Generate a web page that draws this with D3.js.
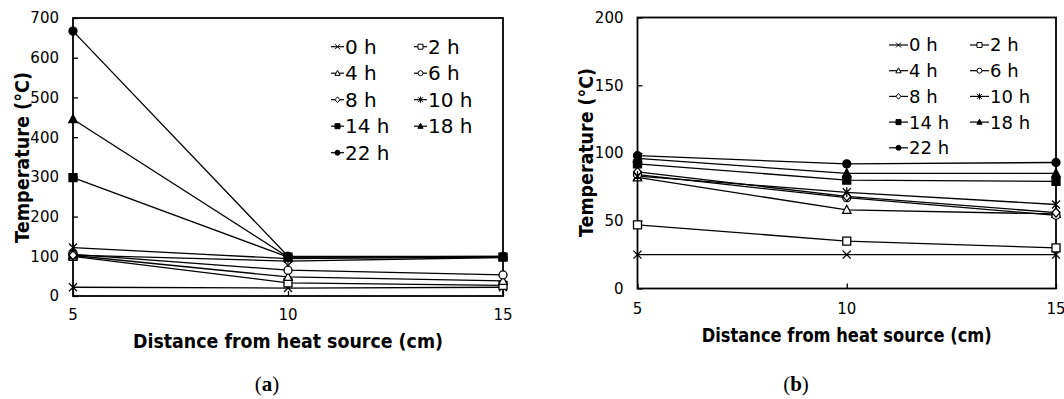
<!DOCTYPE html>
<html><head><meta charset="utf-8">
<script src="https://cdn.jsdelivr.net/npm/d3@7"></script>
<style>
html,body{margin:0;padding:0;background:#fff;}
svg{display:block;}
text{font-family:"DejaVu Sans",Verdana,sans-serif;fill:#000;}
</style></head>
<body>
<svg id="chart" width="1064" height="399"></svg>
<script>
// ---- data ----
const distances = [5, 10, 15];
const seriesNames = ["0 h", "2 h", "4 h", "6 h", "8 h", "10 h", "14 h", "18 h", "22 h"];
const markerTypes = ["x", "square", "triangle", "circle", "diamond", "asterisk", "squareFill", "triangleFill", "circleFill"];

// panel (a)
const a0h  = [22, 20, 22];
const a2h  = [100, 33, 27];
const a4h  = [102, 48, 38];
const a6h  = [105, 65, 53];
const a8h  = [103, 88, 97];
const a10h = [122, 94, 98];
const a14h = [298, 98, 98];
const a18h = [445, 98, 100];
const a22h = [667, 100, 100];
const aTicksY = [0, 100, 200, 300, 400, 500, 600, 700];

// panel (b)
const b0h  = [25, 25, 25];
const b2h  = [47, 35, 30];
const b4h  = [82, 58, 55];
const b6h  = [84, 67, 54];
const b8h  = [86, 68, 56];
const b10h = [83, 71, 62];
const b14h = [92, 80, 79];
const b18h = [96, 85, 85];
const b22h = [98, 92, 93];
const bTicksY = [0, 50, 100, 150, 200];

const xTicks = [5, 10, 15];
const yTitle = "Temperature (°C)";
const xTitle = "Distance from heat source (cm)";

// ---- drawing ----
const svg = d3.select("#chart");

function markerPath(type, s) {
  const h = s / 2;
  switch (type) {
    case "x": case "asterisk": {
      let p = `M${-h},${-h}L${h},${h}M${-h},${h}L${h},${-h}`;
      if (type === "asterisk") p += `M0,${-h * 1.25}L0,${h * 1.25}`;
      return p;
    }
    case "square": case "squareFill":
      return `M${-h},${-h}H${h}V${h}H${-h}Z`;
    case "triangle": case "triangleFill":
      return `M0,${-h * 1.15}L${h * 1.05},${h * 0.85}L${-h * 1.05},${h * 0.85}Z`;
    case "diamond":
      return `M0,${-h * 1.15}L${h * 1.0},0L0,${h * 1.15}L${-h * 1.0},0Z`;
    case "circle": case "circleFill":
      return `M${h},0A${h},${h} 0 1,1 ${-h},0A${h},${h} 0 1,1 ${h},0Z`;
  }
}
function drawMarker(g, type, x, y, s, sw) {
  const filled = type.endsWith("Fill");
  const open = !filled && type !== "x" && type !== "asterisk";
  g.append("path")
    .attr("d", markerPath(type, s))
    .attr("transform", `translate(${x},${y})`)
    .attr("fill", filled ? "#000" : (open ? "#fff" : "none"))
    .attr("stroke", "#000")
    .attr("stroke-width", sw);
}

function panel(cfg) {
  const g = svg.append("g");
  const x = d3.scaleLinear().domain([5, 15]).range([cfg.left, cfg.right]);
  const y = d3.scaleLinear().domain([0, cfg.yMax]).range([cfg.bottom, cfg.top]);

  // y axis ticks (inward) and labels
  const yAxis = d3.axisRight(y).tickValues(cfg.yTicks).tickSize(5).tickFormat("");
  g.append("g").attr("transform", `translate(${cfg.left},0)`).call(yAxis)
    .call(s => s.select(".domain").remove())
    .call(s => s.selectAll("line").attr("stroke", "#000").attr("stroke-width", 1.3));
  g.selectAll(".ylab").data(cfg.yTicks).enter().append("text")
    .attr("x", cfg.left - 14).attr("y", d => y(d)).attr("dy", "0.36em")
    .attr("text-anchor", "end").attr("font-size", cfg.tickFs).text(d => d);

  // x axis ticks (inward) and labels
  const xAxis = d3.axisTop(x).tickValues(xTicks).tickSize(5).tickFormat("");
  g.append("g").attr("transform", `translate(0,${cfg.bottom})`).call(xAxis)
    .call(s => s.select(".domain").remove())
    .call(s => s.selectAll("line").attr("stroke", "#000").attr("stroke-width", 1.3));
  g.selectAll(".xlab").data(xTicks).enter().append("text")
    .attr("x", d => x(d)).attr("y", cfg.bottom + cfg.xLabOff).attr("dy", "0.36em")
    .attr("text-anchor", "middle").attr("font-size", cfg.tickFs).text(d => d);

  // frame
  g.append("rect").attr("x", cfg.left).attr("y", cfg.top)
    .attr("width", cfg.right - cfg.left).attr("height", cfg.bottom - cfg.top)
    .attr("fill", "none").attr("stroke", "#000").attr("stroke-width", 1.8);

  // series lines
  const line = d3.line().x((d, i) => x(distances[i])).y(d => y(d));
  cfg.series.forEach(vals => {
    g.append("path").attr("d", line(vals)).attr("fill", "none")
      .attr("stroke", "#000").attr("stroke-width", 1.3);
  });
  // markers
  cfg.series.forEach((vals, k) => {
    vals.forEach((v, i) => drawMarker(g, markerTypes[k], x(distances[i]), y(v), cfg.ms, 1.3));
  });

  // legend
  seriesNames.forEach((name, k) => {
    const col = k % 2, row = Math.floor(k / 2);
    const lx = cfg.legX[col], ly = cfg.legY + row * cfg.legStep;
    g.append("line").attr("x1", lx).attr("x2", lx + cfg.legLine)
      .attr("y1", ly).attr("y2", ly).attr("stroke", "#000").attr("stroke-width", 1.2);
    drawMarker(g, markerTypes[k], lx + cfg.legLine / 2, ly, cfg.legMs, 1);
    g.append("text").attr("x", lx + cfg.legLine + 1).attr("y", ly).attr("dy", "0.36em")
      .attr("font-size", cfg.legFs).text(name);
  });

  // axis titles
  g.append("text").attr("x", (cfg.left + cfg.right) / 2).attr("y", cfg.xTitleY)
    .attr("text-anchor", "middle").attr("font-weight", "bold").attr("font-size", 19)
    .attr("textLength", cfg.xTitleLen).attr("lengthAdjust", "spacingAndGlyphs")
    .attr("dy", "0.36em").text(xTitle);
  g.append("text").attr("transform", `translate(${cfg.yTitleX},${cfg.yTitleY}) rotate(-90)`)
    .attr("text-anchor", "middle").attr("font-weight", "bold").attr("font-size", 19)
    .attr("textLength", cfg.yTitleLen).attr("lengthAdjust", "spacingAndGlyphs")
    .attr("dy", "0.36em").text(yTitle);

  // caption
  const cap = g.append("text").attr("x", cfg.capX).attr("y", 383).attr("dy", "0.36em")
    .attr("text-anchor", "middle").attr("font-size", 21)
    .style("font-family", "'Liberation Serif','DejaVu Serif',serif");
  cap.append("tspan").text("(");
  cap.append("tspan").attr("font-weight", "bold").text(cfg.capLetter);
  cap.append("tspan").text(")");
}

panel({
  left: 73, right: 503, top: 18, bottom: 296, yMax: 700, yTicks: aTicksY,
  series: [a0h, a2h, a4h, a6h, a8h, a10h, a14h, a18h, a22h],
  tickFs: 15, xLabOff: 19, ms: 8,
  legX: [331, 414], legY: 46.7, legStep: 26.5, legLine: 13, legMs: 5, legFs: 20,
  xTitleY: 341, xTitleLen: 310, yTitleX: 22, yTitleY: 157.5, yTitleLen: 171,
  capX: 267, capLetter: "a"
});
panel({
  left: 637.5, right: 1056, top: 17.5, bottom: 288.5, yMax: 200, yTicks: bTicksY,
  series: [b0h, b2h, b4h, b6h, b8h, b10h, b14h, b18h, b22h],
  tickFs: 15, xLabOff: 20, ms: 8,
  legX: [889, 970], legY: 45, legStep: 25.7, legLine: 19, legMs: 5, legFs: 18,
  xTitleY: 335, xTitleLen: 290, yTitleX: 586, yTitleY: 152.5, yTitleLen: 169,
  capX: 796, capLetter: "b"
});
</script>
</body></html>
